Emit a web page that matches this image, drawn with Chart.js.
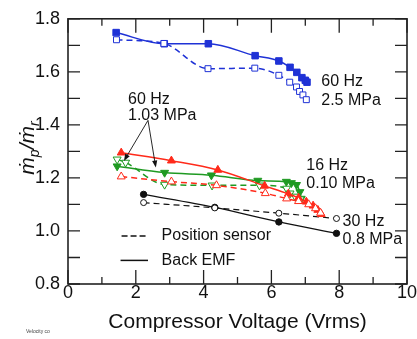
<!DOCTYPE html>
<html><head><meta charset="utf-8">
<script src="https://cdn.jsdelivr.net/npm/chart.js@4/dist/chart.umd.min.js"></script>
<style>html,body{margin:0;padding:0;background:#fff;}canvas{display:block;}</style>
</head><body>
<canvas id="c" width="417" height="339"></canvas>
<script>
// ---- data ----
const xTicks = [0, 2, 4, 6, 8, 10];
const yTicks = [0.8, 1.0, 1.2, 1.4, 1.6, 1.8];

const blueEmfX = [1.42, 2.84, 4.14, 5.52, 6.22, 6.55, 6.75, 6.90, 7.00, 7.05];
const blueEmfY = [1.748, 1.706, 1.706, 1.661, 1.641, 1.617, 1.598, 1.578, 1.568, 1.561];
const bluePosX = [1.43, 2.83, 4.13, 5.51, 6.22, 6.54, 6.74, 6.83, 6.93, 7.03];
const bluePosY = [1.721, 1.707, 1.612, 1.614, 1.587, 1.561, 1.543, 1.526, 1.513, 1.495];

const redEmfX = [1.57, 3.05, 4.42, 5.80, 6.50, 6.80, 7.03, 7.23, 7.37, 7.47];
const redEmfY = [1.295, 1.265, 1.230, 1.170, 1.140, 1.125, 1.110, 1.095, 1.079, 1.063];
const redPosX = [1.57, 3.05, 4.38, 5.82, 6.45, 6.80, 7.10, 7.30, 7.45];
const redPosY = [1.205, 1.186, 1.172, 1.142, 1.122, 1.112, 1.100, 1.085, 1.068];

const greenEmfX = [1.45, 2.85, 4.23, 5.60, 6.44, 6.59, 6.74, 6.84, 6.88];
const greenEmfY = [1.244, 1.220, 1.210, 1.190, 1.186, 1.181, 1.174, 1.147, 1.122];
const greenPosX = [1.45, 1.70, 2.85, 4.25, 5.65, 6.45, 6.55, 6.70, 6.85];
const greenPosY = [1.270, 1.258, 1.175, 1.172, 1.172, 1.160, 1.142, 1.130, 1.120];

const blackEmfX = [2.23, 4.33, 6.22, 7.92];
const blackEmfY = [1.138, 1.089, 1.034, 0.991];
const blackPosX = [2.23, 4.33, 6.22, 7.92];
const blackPosY = [1.107, 1.087, 1.067, 1.047];

// annotation texts
const labelBlue = ['60 Hz', '2.5 MPa'];
const labelRed = ['60 Hz', '1.03 MPa'];
const labelGreen = ['16 Hz', '0.10 MPa'];
const labelBlack = ['30 Hz', '0.8 MPa'];
const legendTexts = ['Position sensor', 'Back EMF'];

// ---- presentation ----
const FONT = 'Arial, "Liberation Sans", Helvetica, "DejaVu Sans", sans-serif';
const BLUE = '#1f32d6', RED = '#ff2a1a', GREEN = '#1f9a22', BLACK = '#111111';

function ds(label, xs, ys, color, style, filled, dashed, rotation, radius, width) {
  return {
    label, data: xs.map((x, i) => ({x, y: ys[i]})),
    borderColor: color, backgroundColor: color,
    pointBackgroundColor: filled ? color : '#ffffff', pointBorderColor: color,
    pointStyle: style, pointRotation: rotation || 0, pointRadius: radius, pointBorderWidth: 1,
    borderWidth: width || 1.5, borderDash: dashed ? [6, 4] : [], showLine: true,
    cubicInterpolationMode: 'monotone', fill: false
  };
}

const datasets = [
  ds('blue pos', bluePosX, bluePosY, BLUE, 'rect', false, true, 0, 4.2),
  ds('blue emf', blueEmfX, blueEmfY, BLUE, 'rect', true, false, 0, 4.6),
  ds('red pos', redPosX, redPosY, RED, 'triangle', false, true, 0, 4.6),
  ds('red emf', redEmfX, redEmfY, RED, 'triangle', true, false, 0, 4.6),
  ds('green pos', greenPosX, greenPosY, GREEN, 'triangle', false, true, 180, 4.6),
  ds('green emf', greenEmfX, greenEmfY, GREEN, 'triangle', true, false, 180, 4.6),
  ds('black pos', blackPosX, blackPosY, BLACK, 'circle', false, true, 0, 3, 1.2),
  ds('black emf', blackEmfX, blackEmfY, BLACK, 'circle', true, false, 0, 3.2, 1.2)
];

function arrow(ctx, x1, y1, x2, y2) {
  const a = Math.atan2(y2 - y1, x2 - x1), L = 7, W = 2.6;
  ctx.beginPath(); ctx.moveTo(x1, y1); ctx.lineTo(x2 - Math.cos(a) * L * 0.8, y2 - Math.sin(a) * L * 0.8); ctx.stroke();
  ctx.beginPath(); ctx.moveTo(x2, y2);
  ctx.lineTo(x2 - L * Math.cos(a) + W * Math.sin(a), y2 - L * Math.sin(a) - W * Math.cos(a));
  ctx.lineTo(x2 - L * Math.cos(a) - W * Math.sin(a), y2 - L * Math.sin(a) + W * Math.cos(a));
  ctx.closePath(); ctx.fill();
}

const decor = {
  id: 'decor',
  beforeDatasetsDraw(chart) {
    const {ctx, chartArea: a, scales: {x, y}} = chart;
    ctx.save();
    ctx.strokeStyle = '#222'; ctx.lineWidth = 1.3;
    ctx.beginPath();
    for (let k = 0; k <= 10; k++) {
      const px = x.getPixelForValue(k), L = k % 2 === 0 ? 14 : 7;
      ctx.moveTo(px, a.bottom); ctx.lineTo(px, a.bottom - L);
      ctx.moveTo(px, a.top); ctx.lineTo(px, a.top + L);
    }
    for (let k = 0; k <= 10; k++) {
      const py = y.getPixelForValue(0.8 + k * 0.1);
      ctx.moveTo(a.left, py); ctx.lineTo(a.left + 12, py);
      ctx.moveTo(a.right, py); ctx.lineTo(a.right - 12, py);
    }
    ctx.stroke();
    ctx.lineWidth = 1.6;
    ctx.strokeRect(a.left, a.top, a.right - a.left, a.bottom - a.top);
    ctx.restore();
  },
  afterDatasetsDraw(chart) {
    const {ctx, scales: {x, y}} = chart;
    const X = v => x.getPixelForValue(v), Y = v => y.getPixelForValue(v);
    ctx.save();
    ctx.fillStyle = BLACK; ctx.strokeStyle = BLACK;
    ctx.font = '16px ' + FONT; ctx.textBaseline = 'middle'; ctx.textAlign = 'left';
    ctx.fillText(labelBlue[0], X(7.47), Y(1.564));
    ctx.fillText(labelBlue[1], X(7.47), Y(1.490));
    ctx.fillText(labelRed[0], X(1.77), Y(1.497));
    ctx.fillText(labelRed[1], X(1.77), Y(1.435));
    ctx.fillText(labelGreen[0], X(7.03), Y(1.246));
    ctx.fillText(labelGreen[1], X(7.03), Y(1.177));
    ctx.fillText(labelBlack[0], X(8.10), Y(1.036));
    ctx.fillText(labelBlack[1], X(8.10), Y(0.966));
    // legend
    ctx.fillText(legendTexts[0], X(2.76), Y(0.981));
    ctx.fillText(legendTexts[1], X(2.76), Y(0.889));
    ctx.lineWidth = 1.5;
    ctx.setLineDash([6, 3]);
    ctx.beginPath(); ctx.moveTo(X(1.58), Y(0.981)); ctx.lineTo(X(2.36), Y(0.981)); ctx.stroke();
    ctx.setLineDash([]);
    ctx.beginPath(); ctx.moveTo(X(1.55), Y(0.889)); ctx.lineTo(X(2.36), Y(0.889)); ctx.stroke();
    // arrows
    ctx.lineWidth = 0.9;
    arrow(ctx, X(2.36), Y(1.417), X(1.65), Y(1.264));
    arrow(ctx, X(2.36), Y(1.417), X(2.59), Y(1.239));
    // y title  m-dot p / m-dot r
    ctx.translate(27, 148); ctx.rotate(-Math.PI / 2);
    const big = 'italic 21px ' + FONT, small = 'italic 14px ' + FONT;
    const parts = [['ṁ', big, 0], ['p', small, 5], ['/', big, 0], ['ṁ', big, 0], ['r', small, 5]];
    let w = 0;
    parts.forEach(p => { ctx.font = p[1]; w += ctx.measureText(p[0]).width; });
    let cx = -w / 2;
    ctx.textAlign = 'left'; ctx.textBaseline = 'alphabetic';
    parts.forEach(p => { ctx.font = p[1]; ctx.fillText(p[0], cx, 7 + p[2]); cx += ctx.measureText(p[0]).width; });
    ctx.restore();
    ctx.save();
    ctx.fillStyle = '#444'; ctx.font = '5px ' + FONT; ctx.textBaseline = 'middle';
    ctx.fillText('Velocity co', 26, 332);
    ctx.restore();
  }
};

new Chart(document.getElementById('c'), {
  type: 'scatter',
  data: {datasets},
  options: {
    responsive: false, animation: false, devicePixelRatio: 1,
    layout: {padding: {top: 13, right: 10, left: 0, bottom: 0}},
    plugins: {legend: {display: false}, tooltip: {enabled: false}},
    scales: {
      x: {
        type: 'linear', min: 0, max: 10,
        afterBuildTicks: s => { s.ticks = xTicks.map(v => ({value: v})); },
        grid: {display: false, drawTicks: false}, border: {display: false},
        ticks: {font: {size: 18, family: FONT}, color: BLACK, padding: -2, maxRotation: 0},
        title: {display: true, text: 'Compressor Voltage (Vrms)', font: {size: 21, family: FONT}, color: BLACK, padding: {top: 0, bottom: 4}},
        afterFit: s => { s.height = 55; }
      },
      y: {
        type: 'linear', min: 0.8, max: 1.8,
        afterBuildTicks: s => { s.ticks = yTicks.map(v => ({value: v})); },
        grid: {display: false, drawTicks: false}, border: {display: false},
        ticks: {font: {size: 18, family: FONT}, color: BLACK, padding: 8, callback: v => Number(v).toFixed(1)},
        afterFit: s => { s.width = 68; }
      }
    }
  },
  plugins: [decor]
});
</script></body></html>
